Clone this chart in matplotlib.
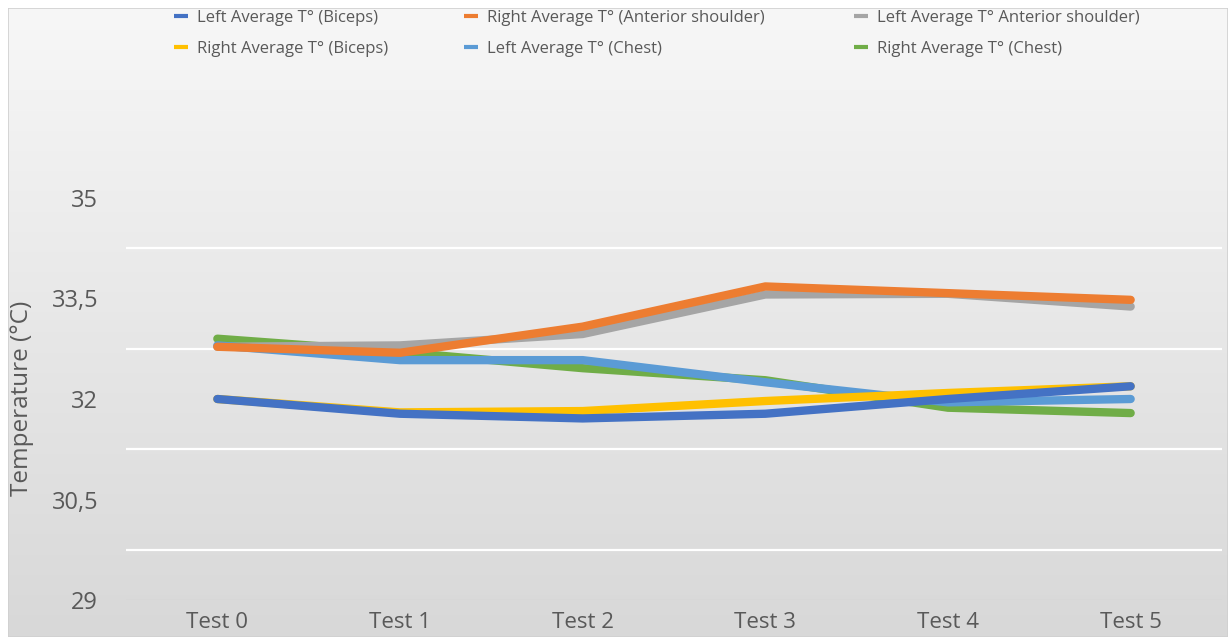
import numpy as np
import matplotlib
matplotlib.use("Agg")
import matplotlib.pyplot as plt
from matplotlib.patches import Rectangle

# ==========================================================
# DATA
# ==========================================================

tests = ["Test 0", "Test 1", "Test 2", "Test 3", "Test 4", "Test 5"]

left_biceps = [32.0, 31.78, 31.71, 31.78, 32.0, 32.19]
right_ant_shoulder = [32.78, 32.69, 33.08, 33.68, 33.58, 33.48]
left_ant_shoulder = [32.78, 32.8, 32.97, 33.56, 33.57, 33.38]
right_biceps = [32.0, 31.8, 31.82, 31.97, 32.09, 32.19]
left_chest = [32.8, 32.58, 32.58, 32.25, 31.95, 32.0]
right_chest = [32.9, 32.7, 32.46, 32.28, 31.87, 31.79]

y_ticks = [29, 30.5, 32, 33.5, 35]
y_tick_labels = ["29", "30,5", "32", "33,5", "35"]
grid_levels = [29.75, 31.25, 32.75, 34.25]

# label, values, colour, zorder
series = [
    ("Left Average T° (Biceps)", left_biceps, "#4472C4", 8),
    ("Right Average T° (Biceps)", right_biceps, "#FFC000", 6),
    ("Right Average T° (Anterior shoulder)", right_ant_shoulder, "#ED7D31", 7),
    ("Left Average T° (Chest)", left_chest, "#5B9BD5", 5),
    ("Left Average T° Anterior shoulder)", left_ant_shoulder, "#A5A5A5", 4),
    ("Right Average T° (Chest)", right_chest, "#70AD47", 3),
]

plt.rcParams["font.family"] = ["Open Sans", "DejaVu Sans"]
text_col = "#595959"

W, H = 1228, 637
fig = plt.figure(figsize=(W / 100, H / 100), dpi=100)
fig.patch.set_facecolor("white")

# ----------------------------------------------------------
# chart-area gradient background
# ----------------------------------------------------------
bg = fig.add_axes([8 / W, 0, 1 - 8 / W, 1 - 8 / H], zorder=0)
grad = np.linspace(0, 1, 256).reshape(-1, 1)
bg.imshow(grad, aspect="auto", cmap=matplotlib.colors.LinearSegmentedColormap.from_list(
    "g", ["#f7f7f7", "#d8d8d8"]), extent=[0, 1, 1, 0])
bg.add_patch(Rectangle((0, 0), 1, 1, fill=False, edgecolor="#d0d0d0",
                       linewidth=1.2, transform=bg.transAxes))
bg.set_axis_off()

# ----------------------------------------------------------
# plot area
# ----------------------------------------------------------
x0, x1 = 126, 1222
y_bot, y_top = 600, 97.5
ax = fig.add_axes([x0 / W, 1 - y_bot / H, (x1 - x0) / W, (y_bot - y_top) / H], zorder=1)
ax.patch.set_alpha(0)

x = np.arange(len(tests))
for label, vals, col, z in series:
    ax.plot(x, vals, color=col, linewidth=6, solid_capstyle="round",
            solid_joinstyle="round", label=label, zorder=z)

for g in grid_levels:
    ax.axhline(g, color="white", linewidth=1.6, zorder=1)
ax.axhline(29, color="#d2d2d2", linewidth=1.0, zorder=1)

ax.set_xlim(-0.5, len(tests) - 0.5)
ax.set_ylim(29, 36.5)
ax.set_xticks(x)
ax.set_xticklabels(tests, fontsize=16, color=text_col)
ax.set_yticks(y_ticks)
ax.set_yticklabels(y_tick_labels, fontsize=17, color=text_col)
ax.tick_params(length=0)
ax.tick_params(axis="y", pad=20)
ax.tick_params(axis="x", pad=9)
for s in ax.spines.values():
    s.set_visible(False)

fig.text(22 / W, 1 - 398 / H, "Temperature (°C)", rotation=90, fontsize=17.5,
         color=text_col, ha="center", va="center")

# ----------------------------------------------------------
# legend: three 2-row columns placed where the reference has them
# ----------------------------------------------------------
handles, labels = ax.get_legend_handles_labels()
col_x = [164, 454, 844]
for i, cx in enumerate(col_x):
    leg = fig.legend(handles[2 * i:2 * i + 2], labels[2 * i:2 * i + 2],
                     loc="upper left", bbox_to_anchor=(cx / W, 1 - 0 / H),
                     frameon=False, fontsize=12, handlelength=0.85,
                     handletextpad=0.55, labelspacing=0.87,
                     labelcolor=text_col, borderaxespad=0.2)
    for line in leg.get_lines():
        line.set_linewidth(3)
        line.set_solid_capstyle("butt")

fig.savefig("out.png", dpi=100)
